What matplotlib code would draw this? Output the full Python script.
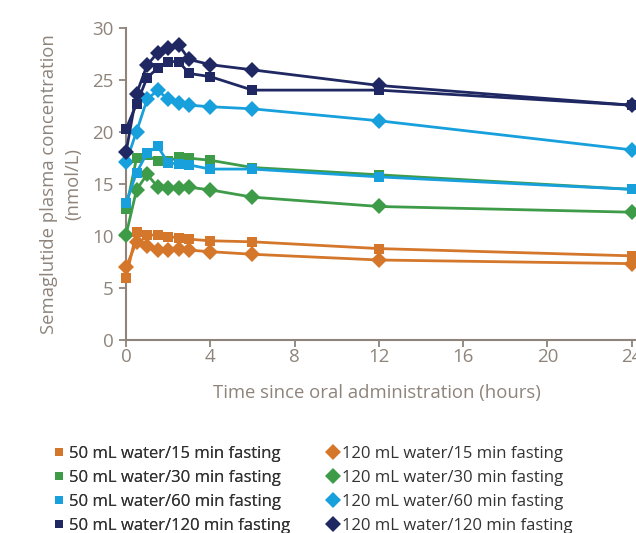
import matplotlib
matplotlib.use("Agg")
import matplotlib.pyplot as plt
from matplotlib.lines import Line2D

plt.rcParams['font.family'] = ['Open Sans', 'DejaVu Sans']

# Sampling times (hours)
hours = [0, 0.5, 1, 1.5, 2, 2.5, 3, 4, 6, 12, 24]

# Semaglutide plasma concentration (nmol/L)
w50_f15 = [6.0, 10.4, 10.1, 10.1, 9.95, 9.85, 9.7, 9.55, 9.45, 8.8, 8.1]
w50_f30 = [12.6, 17.5, 17.8, 17.2, 17.2, 17.6, 17.5, 17.3, 16.6, 15.9, 14.5]
w50_f60 = [13.2, 16.1, 18.0, 18.65, 17.05, 16.95, 16.85, 16.45, 16.45, 15.7, 14.5]
w50_f120 = [20.3, 22.7, 25.25, 26.15, 26.8, 26.8, 25.65, 25.35, 24.05, 24.05, 22.6]
w120_f15 = [7.0, 9.45, 9.0, 8.65, 8.65, 8.75, 8.65, 8.5, 8.25, 7.7, 7.35]
w120_f30 = [10.1, 14.45, 15.95, 14.75, 14.6, 14.6, 14.7, 14.45, 13.75, 12.85, 12.3]
w120_f60 = [17.1, 20.05, 23.15, 24.05, 23.15, 22.85, 22.6, 22.45, 22.25, 21.1, 18.3]
w120_f120 = [18.05, 23.7, 26.45, 27.65, 28.15, 28.4, 27.0, 26.5, 26.0, 24.5, 22.6]

labels_50 = ["50 mL water/15 min fasting", "50 mL water/30 min fasting",
             "50 mL water/60 min fasting", "50 mL water/120 min fasting"]
labels_120 = ["120 mL water/15 min fasting", "120 mL water/30 min fasting",
              "120 mL water/60 min fasting", "120 mL water/120 min fasting"]

x_ticks = [0, 4, 8, 12, 16, 20, 24]
y_ticks = [0, 5, 10, 15, 20, 25, 30]

colors = ["#D4772B", "#3E9B48", "#18A0DC", "#1F2862"]
axis_grey = "#8E847B"
text_dark = "#333333"

W, H = 636, 533
fig = plt.figure(figsize=(W / 100, H / 100), dpi=100)
fig.patch.set_facecolor("white")

x0_px, px_per_h = 126, 21.07
y0_px, y30_px = 340, 28.3
xmax = 24.6
ax_w_px = xmax * px_per_h
ax = fig.add_axes([x0_px / W, (H - y0_px) / H,
                   ax_w_px / W, (y0_px - y30_px) / H])

series_50 = [w50_f15, w50_f30, w50_f60, w50_f120]
series_120 = [w120_f15, w120_f30, w120_f60, w120_f120]

for vals, c in zip(series_120, colors):
    ax.plot(hours, vals, color=c, lw=2, marker="D", ms=8.3,
            markeredgewidth=0, clip_on=False, zorder=3)
for vals, c in zip(series_50, colors):
    ax.plot(hours, vals, color=c, lw=2, marker="s", ms=7.2,
            markeredgewidth=0, clip_on=False, zorder=3)

ax.set_xlim(0, xmax)
ax.set_ylim(0, 30)
ax.set_xticks(x_ticks)
ax.set_yticks(y_ticks)
ax.tick_params(colors=axis_grey, labelcolor=axis_grey, labelsize=13.5,
               width=1.3, length=5, direction="out")
ax.tick_params(axis="x", pad=1)
ax.tick_params(axis="y", pad=4)
for s in ("top", "right"):
    ax.spines[s].set_visible(False)
for s in ("left", "bottom"):
    ax.spines[s].set_color(axis_grey)
    ax.spines[s].set_linewidth(1.5)

ax.set_xlabel("Time since oral administration (hours)", color=axis_grey,
              fontsize=13.3, labelpad=17)
ax.xaxis.set_label_coords((377 - x0_px) / ax_w_px, -(384 - y0_px) / (y0_px - y30_px))
ax.set_ylabel("Semaglutide plasma concentration\n(nmol/L)", color=axis_grey,
              fontsize=13.3, linespacing=1.4)
ax.yaxis.set_label_coords((82 - x0_px) / ax_w_px, 0.5)

sq_handles = [Line2D([], [], ls="none", marker="s", ms=5.2, color=c, mew=0) for c in colors]
dm_handles = [Line2D([], [], ls="none", marker="D", ms=8, color=c, mew=0) for c in colors]
common = dict(loc="upper left", frameon=False, fontsize=12, labelcolor=text_dark,
              handlelength=0.6, labelspacing=0.47, borderpad=0, borderaxespad=0)
leg1 = fig.legend(sq_handles, labels_50, bbox_to_anchor=(54 / W, 1 - 446 / H),
                  handletextpad=0.3, **common)
fig.add_artist(leg1)
fig.legend(dm_handles, labels_120, bbox_to_anchor=(328 / W, 1 - 446 / H),
           handletextpad=0.22, **common)

fig.savefig("out.png", dpi=100)
